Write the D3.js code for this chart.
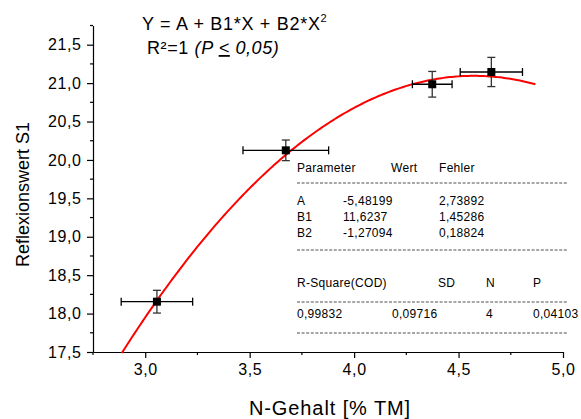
<!DOCTYPE html>
<html>
<head>
<meta charset="utf-8">
<script src="https://cdn.jsdelivr.net/npm/d3@7"></script>
<style>
  body { margin: 0; background: #fff; }
  svg { font-family: "Liberation Sans", Arial, sans-serif; }
</style>
</head>
<body>
<svg id="chart" width="581" height="419"></svg>
<script>
// measured points (N-Gehalt vs Reflexionswert)
const xValues = [3.056, 3.673, 4.374, 4.657];
const yValues = [18.155, 20.125, 20.985, 21.145];
const xErrors = [0.171, 0.205, 0.095, 0.149];
const yErrors = [0.148, 0.134, 0.167, 0.19];

// fit parameters (from the table)
const paramNames = ["A", "B1", "B2"];
const paramValues = [-5.48199, 11.6237, -1.27094];
const paramErrors = ["2,73892", "1,45286", "0,18824"];
const paramLabels = ["-5,48199", "11,6237", "-1,27094"];
const statNames = ["R-Square(COD)", "SD", "N", "P"];
const statValues = ["0,99832", "0,09716", "4", "0,04103"];
const fitRange = [2.888, 4.868];

const xTicks = [3.0, 3.5, 4.0, 4.5, 5.0];
const yTicks = [17.5, 18.0, 18.5, 19.0, 19.5, 20.0, 20.5, 21.0, 21.5];

const svg = d3.select("#chart");
const fmt = d => d.toFixed(1).replace(".", ",");

const x = d3.scaleLinear().domain([2.75, 5.0]).range([93, 563]);
const y = d3.scaleLinear().domain([17.5, 21.75]).range([352, 25.5]);

// axes
const xAxis = d3.axisBottom(x).tickValues(xTicks).tickFormat(fmt).tickSize(6).tickSizeOuter(0);
const yAxis = d3.axisLeft(y).tickValues(yTicks).tickFormat(fmt).tickSize(6).tickSizeOuter(0);

const gx = svg.append("g").attr("transform", "translate(0,352)").call(xAxis);
const gy = svg.append("g").attr("transform", "translate(93,0)").call(yAxis);

gx.selectAll("text").attr("font-size", 16).attr("letter-spacing", 0.6).attr("fill", "#000").attr("dy", "0.9em");
gy.selectAll("text").attr("font-size", 16).attr("letter-spacing", 0.6).attr("fill", "#000").attr("dx", "-0.15em");
[gx, gy].forEach(g => {
  g.attr("font-family", null);
  g.selectAll("line, path").attr("stroke", "#000").attr("stroke-width", 1.2);
});

// minor ticks
svg.append("g").selectAll("line")
  .data([2.75, 3.25, 3.75, 4.25, 4.75])
  .join("line")
  .attr("x1", d => x(d)).attr("x2", d => x(d))
  .attr("y1", 352).attr("y2", 355)
  .attr("stroke", "#000").attr("stroke-width", 1.2);
svg.append("g").selectAll("line")
  .data([17.75, 18.25, 18.75, 19.25, 19.75, 20.25, 20.75, 21.25, 21.75])
  .join("line")
  .attr("x1", 90).attr("x2", 93)
  .attr("y1", d => y(d)).attr("y2", d => y(d))
  .attr("stroke", "#000").attr("stroke-width", 1.2);

// axis titles
svg.append("text")
  .attr("x", x(3.875) + 2).attr("y", 415)
  .attr("text-anchor", "middle").attr("font-size", 20).attr("letter-spacing", 0.9)
  .text("N-Gehalt [% TM]");
svg.append("text")
  .attr("transform", "translate(29," + y(19.55) + ") rotate(-90)")
  .attr("text-anchor", "middle").attr("font-size", 18)
  .text("Reflexionswert S1");

// fit curve
const fitX = d3.range(fitRange[0], fitRange[1], 0.01).concat([fitRange[1]]);
const fitY = fitX.map(v => paramValues[0] + paramValues[1] * v + paramValues[2] * v * v);
svg.append("path")
  .datum(fitX.map((v, i) => [v, fitY[i]]))
  .attr("fill", "none")
  .attr("stroke", "#ff0000")
  .attr("stroke-width", 2)
  .attr("d", d3.line().x(d => x(d[0])).y(d => y(d[1])));

// error bars + points
const pts = xValues.map((v, i) => ({ x: v, y: yValues[i], ex: xErrors[i], ey: yErrors[i] }));
const eb = svg.append("g").attr("stroke", "#000").attr("stroke-width", 1.3);
pts.forEach(p => {
  eb.append("line").attr("x1", x(p.x - p.ex)).attr("x2", x(p.x + p.ex)).attr("y1", y(p.y)).attr("y2", y(p.y));
  eb.append("line").attr("x1", x(p.x - p.ex)).attr("x2", x(p.x - p.ex)).attr("y1", y(p.y) - 4).attr("y2", y(p.y) + 4);
  eb.append("line").attr("x1", x(p.x + p.ex)).attr("x2", x(p.x + p.ex)).attr("y1", y(p.y) - 4).attr("y2", y(p.y) + 4);
  eb.append("line").attr("x1", x(p.x)).attr("x2", x(p.x)).attr("y1", y(p.y - p.ey)).attr("y2", y(p.y + p.ey)).attr("stroke", "#333");
  eb.append("line").attr("x1", x(p.x) - 4).attr("x2", x(p.x) + 4).attr("y1", y(p.y - p.ey)).attr("y2", y(p.y - p.ey)).attr("stroke", "#333");
  eb.append("line").attr("x1", x(p.x) - 4).attr("x2", x(p.x) + 4).attr("y1", y(p.y + p.ey)).attr("y2", y(p.y + p.ey)).attr("stroke", "#333");
});
svg.append("g").selectAll("rect")
  .data(pts)
  .join("rect")
  .attr("x", d => x(d.x) - 4).attr("y", d => y(d.y) - 4)
  .attr("width", 8).attr("height", 8)
  .attr("fill", "#000");

// equation
const eq = svg.append("text").attr("x", 142).attr("y", 30).attr("font-size", 18).attr("letter-spacing", 0.7);
eq.append("tspan").text("Y = A + B1*X + B2*X");
eq.append("tspan").attr("font-size", 11).attr("dy", -8).text("2");
const r2 = svg.append("text").attr("x", 147).attr("y", 54).attr("font-size", 18).attr("letter-spacing", 0.6);
r2.append("tspan").text("R²=1 ");
r2.append("tspan").attr("font-style", "italic").text("(P ");
r2.append("tspan").attr("font-style", "italic").attr("text-decoration", "underline").text("<");
r2.append("tspan").attr("font-style", "italic").text(" 0,05)");

// parameter table
const tbl = svg.append("g").attr("font-size", 12).attr("letter-spacing", 0.3).attr("fill", "#000");
const dashY = [183, 250, 302, 333];
tbl.selectAll("line")
  .data(dashY)
  .join("line")
  .attr("x1", 297).attr("x2", 567)
  .attr("y1", d => d).attr("y2", d => d)
  .attr("stroke", "#222").attr("stroke-width", 0.8)
  .attr("stroke-dasharray", "3,1.6");

const head = [["Parameter", 297], ["Wert", 391], ["Fehler", 439]];
head.forEach(h => tbl.append("text").attr("x", h[1]).attr("y", 172).text(h[0]));
const rowY = [205, 221, 237];
paramNames.forEach((n, i) => {
  tbl.append("text").attr("x", 297).attr("y", rowY[i]).text(n);
  tbl.append("text").attr("x", 343).attr("y", rowY[i]).text(paramLabels[i]);
  tbl.append("text").attr("x", 439).attr("y", rowY[i]).text(paramErrors[i]);
});
const statNameX = [297, 438, 486, 533];
const statValueX = [297, 392, 486, 533];
statNames.forEach((n, i) => {
  tbl.append("text").attr("x", statNameX[i]).attr("y", 287).text(n);
  tbl.append("text").attr("x", statValueX[i]).attr("y", 318).text(statValues[i]);
});
</script>
</body>
</html>
